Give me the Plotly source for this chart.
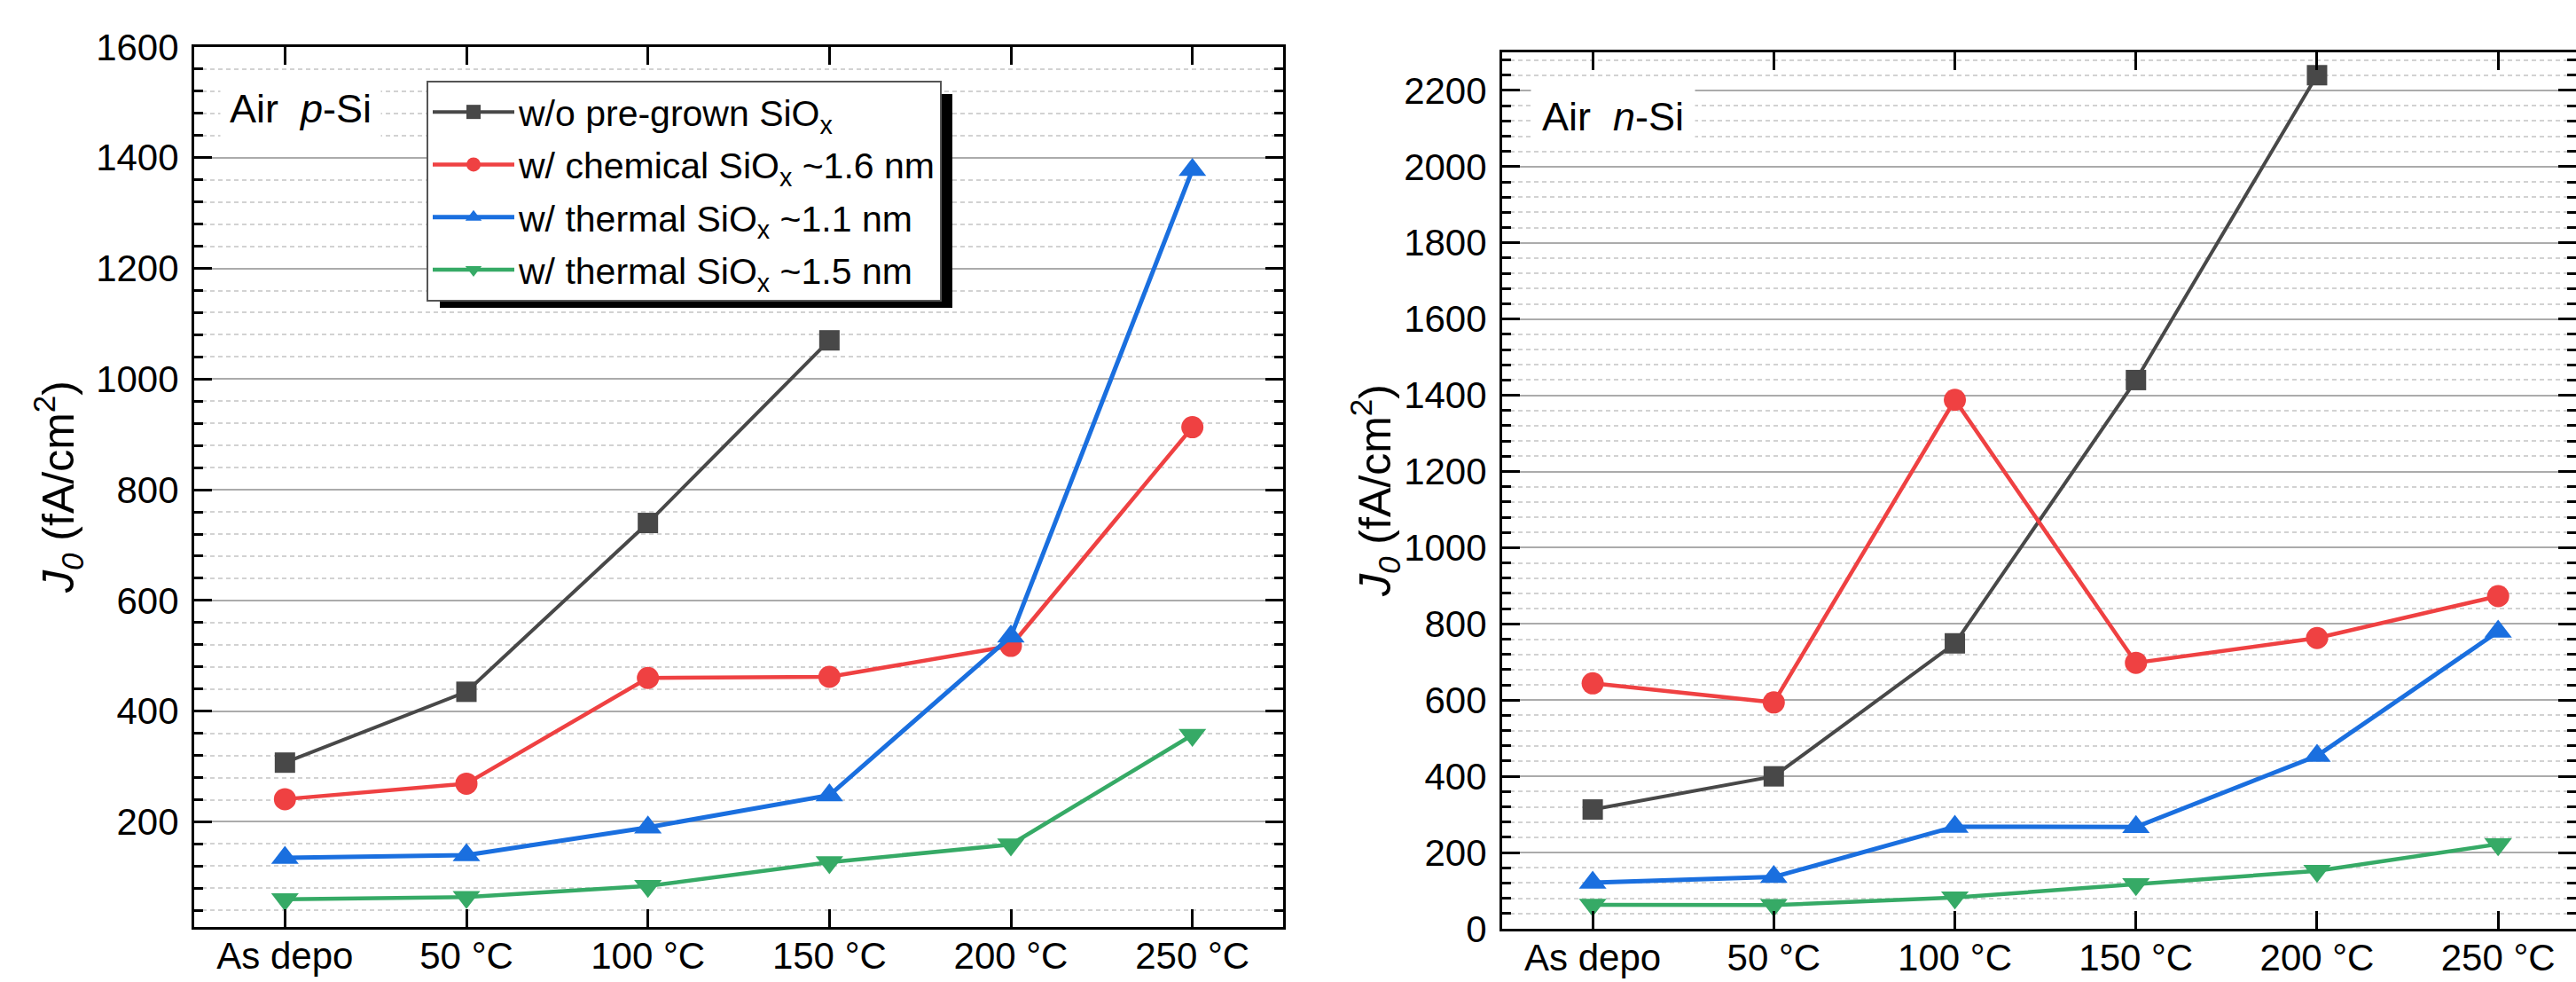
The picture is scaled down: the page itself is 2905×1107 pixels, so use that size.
import plotly.graph_objects as go

# ---------------- data ----------------
categories = ["As depo", "50 °C", "100 °C", "150 °C", "200 °C", "250 °C"]

series_names = [
    "w/o pre-grown SiO<sub>x</sub>",
    "w/ chemical SiO<sub>x</sub> ~1.6 nm",
    "w/ thermal SiO<sub>x</sub> ~1.1 nm",
    "w/ thermal SiO<sub>x</sub> ~1.5 nm",
]

# p-Si panel (left)
p_wo = [307, 435, 740, 1070, None, None]
p_chem16 = [241, 269, 460, 462, 518, 913]
p_therm11 = [135, 140, 190, 248, 535, 1378]
p_therm15 = [60, 64, 84, 127, 159, 357]

# n-Si panel (right)
n_wo = [313, 400, 749, 1440, 2240, None]
n_chem16 = [644, 594, 1388, 698, 763, 873]
n_therm11 = [121, 136, 268, 267, 454, 780]
n_therm15 = [63, 62, 82, 117, 152, 222]

p_yticks = [200, 400, 600, 800, 1000, 1200, 1400, 1600]
n_yticks = [0, 200, 400, 600, 800, 1000, 1200, 1400, 1600, 1800, 2000, 2200]

# ---------------- style ----------------
W, H = 2905, 1107
FONT = "Liberation Sans, Arial, sans-serif"
colors = ["#484848", "#ef4142", "#1a6fdf", "#36aa66"]
symbols = ["square", "circle", "triangle-up", "triangle-down"]
msizes = [23, 25, 27, 27]
lwidths = [4, 4.5, 5, 4.5]


def fx(p):
    return p / W


def fy(p):
    return 1 - p / H


fig = go.Figure()
p_data = [p_wo, p_chem16, p_therm11, p_therm15]
n_data = [n_wo, n_chem16, n_therm11, n_therm15]
for i, name in enumerate(series_names):
    fig.add_trace(go.Scatter(
        x=categories, y=p_data[i], mode="lines+markers", name=name,
        legendgroup=f"g{i}",
        line=dict(color=colors[i], width=lwidths[i]),
        marker=dict(symbol=symbols[i], size=msizes[i], color=colors[i]),
        xaxis="x", yaxis="y"))
    fig.add_trace(go.Scatter(
        x=categories, y=n_data[i], mode="lines+markers", name=name,
        legendgroup=f"g{i}", showlegend=False,
        line=dict(color=colors[i], width=lwidths[i]),
        marker=dict(symbol=symbols[i], size=msizes[i], color=colors[i]),
        xaxis="x2", yaxis="y2"))

tickfont = dict(family=FONT, size=42, color="black")
common_x = dict(
    type="category", categoryorder="array", categoryarray=categories,
    ticks="inside", ticklen=20, tickwidth=3, tickcolor="black",
    showline=True, linewidth=3, linecolor="black", mirror="ticks",
    showgrid=False, zeroline=False, tickfont=tickfont, ticklabelstandoff=-6,
    automargin=False)
common_y = dict(
    ticks="inside", ticklen=20, tickwidth=3, tickcolor="black",
    showline=True, linewidth=3, linecolor="black", mirror="ticks",
    showgrid=True, gridcolor="#ababab", gridwidth=2, zeroline=False,
    tickfont=tickfont, ticklabelstandoff=6, automargin=False,
    minor=dict(dtick=40, tick0=0, ticks="inside", ticklen=10, tickwidth=3,
               tickcolor="black", showgrid=True, gridcolor="#d2d2d2",
               griddash="5px,4px", gridwidth=2))

fig.update_layout(
    width=W, height=H, autosize=False,
    margin=dict(l=0, r=0, t=0, b=0, pad=0),
    paper_bgcolor="white", plot_bgcolor="white",
    font=dict(family=FONT, color="black"),
    xaxis=dict(common_x, domain=[fx(219), fx(1447)], range=[-0.5, 5.5], anchor="y"),
    yaxis=dict(common_y, domain=[fy(1045), fy(53)], range=[10, 1600], anchor="x",
               tickvals=p_yticks),
    xaxis2=dict(common_x, domain=[fx(1694), 1.0], range=[-0.5, 5.43], anchor="y2"),
    yaxis2=dict(common_y, domain=[fy(1047), fy(59)], range=[0, 2300], anchor="x2",
                tickvals=n_yticks),
    showlegend=True,
    legend=dict(
        x=fx(481), y=fy(91), xanchor="left", yanchor="top",
        bgcolor="white", bordercolor="#555555", borderwidth=2,
        font=dict(family=FONT, size=41, color="black"),
        tracegroupgap=3, itemsizing="trace", itemwidth=92),
)

# legend drop shadow
fig.add_shape(type="rect", xref="paper", yref="paper",
              x0=fx(496), x1=fx(1074), y0=fy(347), y1=fy(106),
              fillcolor="black", line=dict(width=0), layer="above")

# panel labels
fig.add_annotation(text="Air  <i>p</i>-Si", xref="paper", yref="paper",
                   x=fx(248), y=fy(122), xanchor="left", yanchor="middle",
                   showarrow=False, bgcolor="white", borderpad=10,
                   font=dict(family=FONT, size=45, color="black"))
fig.add_annotation(text="Air  <i>n</i>-Si", xref="paper", yref="paper",
                   x=fx(1726), y=fy(132), xanchor="left", yanchor="middle",
                   showarrow=False, bgcolor="white", borderpad=12,
                   font=dict(family=FONT, size=45, color="black"))

# y-axis titles
ytitle = "<i>J</i><sub><i>0</i></sub> (fA/cm<sup>2</sup>)"
fig.add_annotation(text=ytitle, xref="paper", yref="paper",
                   x=fx(66), y=fy(549), textangle=-90,
                   xanchor="center", yanchor="middle", showarrow=False,
                   font=dict(family=FONT, size=50, color="black"))
fig.add_annotation(text=ytitle, xref="paper", yref="paper",
                   x=fx(1550), y=fy(553), textangle=-90,
                   xanchor="center", yanchor="middle", showarrow=False,
                   font=dict(family=FONT, size=50, color="black"))

fig.write_html("out.html")
